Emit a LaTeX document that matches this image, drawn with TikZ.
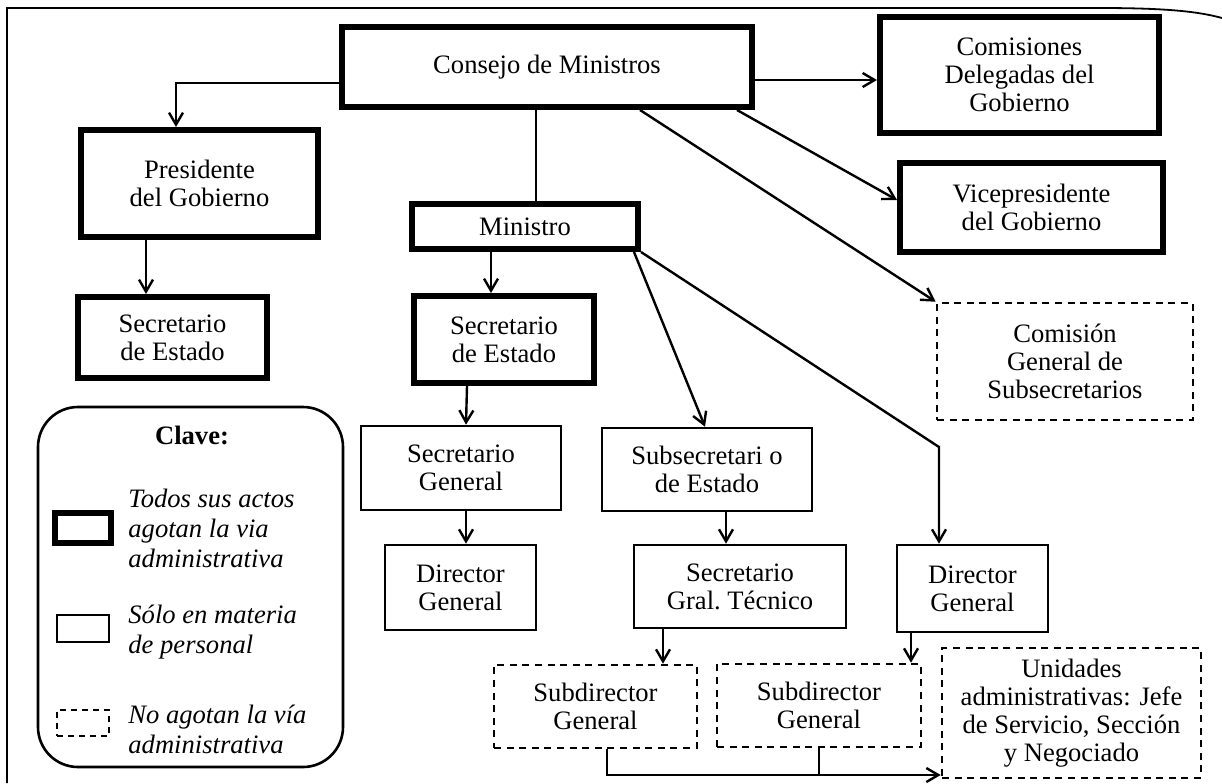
\documentclass[tikz,border=0pt]{standalone}
\usepackage{fontspec}
\setmainfont{Liberation Serif}
\usetikzlibrary{arrows.meta}
\begin{document}
\begin{tikzpicture}[x=0.5pt,y=-0.5pt,
  every node/.style={font=\fontsize{13.3pt}{14pt}\selectfont, align=center, inner sep=0pt},
  thickbox/.style={draw, line width=3pt, rectangle},
  thinbox/.style={draw, line width=1.3pt, rectangle},
  dashbox/.style={draw, line width=1.3pt, dash pattern=on 3.5pt off 2.8pt, rectangle},
  conn/.style={line width=1.2pt},
  arr/.style={conn, -{Straight Barb[length=6pt,width=7pt]}},
  legtext/.style={anchor=west, align=left, font=\fontsize{13.3pt}{15pt}\selectfont\itshape},
]
\useasboundingbox (0,0) rectangle (1222,783);
% outer frame
\draw[line width=0.9pt] (7,783) -- (7,8) -- (1100,8) .. controls (1170,8) and (1200,12) .. (1222,18);

% nodes
\node[thickbox, minimum width=205pt, minimum height=40pt] (cons) at (547,67) {Consejo de Ministros};
\node[thickbox, minimum width=139.5pt, minimum height=58pt] (com) at (1019.5,75) {Comisiones\\Delegadas del\\Gobierno};
\node[thickbox, minimum width=131.5pt, minimum height=44.5pt] (vice) at (1031.5,207.5) {Vicepresidente\\del Gobierno};
\node[thickbox, minimum width=118.5pt, minimum height=53.5pt] (pres) at (199.5,183.5) {Presidente\\del Gobierno};
\node[thickbox, minimum width=113pt, minimum height=22.5pt] (min) at (525,226.5) {Ministro};
\node[thickbox, minimum width=94.5pt, minimum height=40.5pt] (secL) at (172.5,337.5) {Secretario\\de Estado};
\node[thickbox, minimum width=90pt, minimum height=43.5pt] (secM) at (504,339.5) {Secretario\\de Estado};
\node[dashbox, minimum width=128pt, minimum height=58.5pt] (comgen) at (1065,361.5) {Comisión\\General de\\Subsecretarios};
\node[thinbox, minimum width=100pt, minimum height=42pt] (sg) at (461,468) {Secretario\\General};
\node[thinbox, minimum width=105pt, minimum height=41.5pt] (sub) at (707,469.5) {Subsecretari o\\de Estado};
\node[thinbox, minimum width=75.5pt, minimum height=42.5pt] (dirL) at (460.5,587.5) {Director\\General};
\node[thinbox, minimum width=106pt, minimum height=41.5pt] (sgt) at (740,586.5) {Secretario\\Gral.\ Técnico};
\node[thinbox, minimum width=75.5pt, minimum height=43.5pt] (dirR) at (972.5,588.5) {Director\\General};
\node[dashbox, minimum width=101.5pt, minimum height=41.5pt] (sub1) at (595.5,706.5) {Subdirector\\General};
\node[dashbox, minimum width=102pt, minimum height=41.5pt] (sub2) at (819,705.5) {Subdirector\\General};
\node[dashbox, minimum width=129.5pt, minimum height=65pt] (unid) at (1071.5,713) {Unidades\\administrativas: Jefe\\de Servicio, Sección\\y Negociado};

% legend
\node[draw, line width=1.3pt, rounded corners=20pt, minimum width=152.5pt, minimum height=180pt] (clave) at (190.5,587) {};
\node[font=\fontsize{13.3pt}{14pt}\selectfont\bfseries] (clavet) at (192,435) {Clave:};
\node[thickbox, minimum width=28pt, minimum height=15pt] (lk1) at (83,528) {};
\node[thinbox, minimum width=26pt, minimum height=13.5pt] (lk2) at (83,628.5) {};
\node[dashbox, minimum width=26pt, minimum height=13pt, dash pattern=on 3pt off 2.5pt] (lk3) at (83,723) {};
\node[legtext] (lt1) at (128,528) {Todos sus actos\\agotan la via\\administrativa};
\node[legtext] (lt2) at (128,632) {Sólo en materia\\de personal};
\node[legtext] (lt3) at (128,729.5) {No agotan la vía\\administrativa};

% helper coordinates
\coordinate (bendR) at (939,447);
\coordinate (jn) at (819,775);

% connectors
\draw[arr] ([yshift=-8pt]cons.west) -| ([xshift=-11.75pt]pres.north);
\draw[arr] ([yshift=-6.5pt]cons.east) -- ([yshift=-2.5pt]com.west);
\draw[arr] ([xshift=95pt]cons.south) -- ([yshift=3.75pt]vice.west);
\draw[arr] ([xshift=46.5pt]cons.south) -- (comgen.north west);
\draw[conn] ([xshift=-5.5pt]cons.south) -- ([xshift=5.5pt]min.north);
\draw[arr] ([xshift=-26.75pt]pres.south) -- ([xshift=-13.25pt]secL.north);
\draw[arr] ([xshift=-17pt]min.south) -- ([xshift=-6.5pt]secM.north);
\draw[arr] ([xshift=54.5pt]min.south) -- ([xshift=-1pt]sub.north);
\draw[arr] (min.south east) -- (bendR) -- ([xshift=-16.75pt]dirR.north);
\draw[arr] ([xshift=-18.5pt]secM.south) -- ([xshift=2.5pt]sg.north);
\draw[arr] ([xshift=2.5pt]sg.south) -- ([xshift=2.75pt]dirL.north);
\draw[arr] ([xshift=9.5pt]sub.south) -- ([xshift=-7pt]sgt.north);
\draw[arr] ([xshift=-38.5pt]sgt.south) -- ([xshift=33.75pt]sub1.north);
\draw[arr] ([xshift=-30.75pt]dirR.south) -- ([xshift=46pt]sub2.north);
\draw[arr] ([xshift=5.75pt]sub1.south) |- ([yshift=-31pt]unid.west);
\draw[conn] (sub2.south) -- (jn);
\end{tikzpicture}
\end{document}
